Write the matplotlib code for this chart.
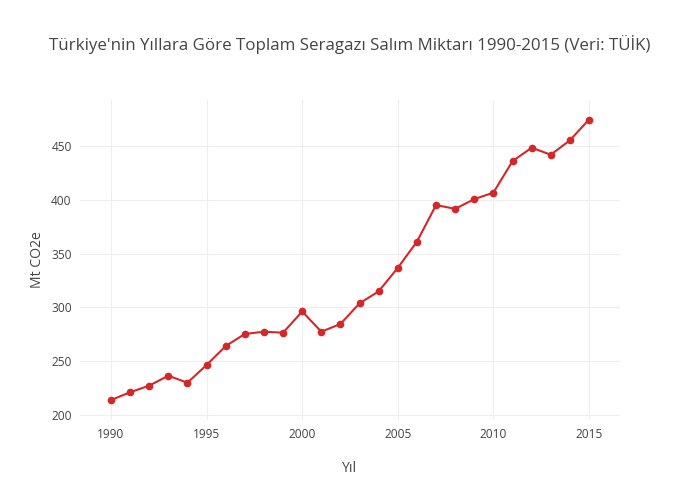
import matplotlib
matplotlib.use("Agg")
import matplotlib.pyplot as plt

years = list(range(1990, 2016))
emissions = [213.9, 221.1, 227.3, 236.5, 230.0, 246.5, 264.1, 275.3, 277.4, 276.5,
             296.2, 277.4, 284.6, 303.8, 314.9, 336.8, 361.1, 395.1, 391.6, 400.6,
             406.7, 435.9, 448.4, 441.9, 455.3, 474.6]
x_ticks = [1990, 1995, 2000, 2005, 2010, 2015]
y_ticks = [200, 250, 300, 350, 400, 450]

plt.rcParams['font.family'] = ['Open Sans', 'DejaVu Sans']
txt = '#444444'

fig = plt.figure(figsize=(7, 5), dpi=100)
ax = fig.add_axes([80/700, 80/500, 540/700, 320/500])
ax.plot(years, emissions, color='#d62728', linewidth=1.5, marker='o',
        markersize=4.5, zorder=3)
ax.set_xlim(1988.38, 2016.62)
ax.set_ylim(195.35, 492.75)
ax.set_xticks(x_ticks)
ax.set_yticks(y_ticks)
ax.grid(True, color='#eeeeee', linewidth=0.8)
ax.set_axisbelow(True)
for s in ax.spines.values():
    s.set_visible(False)
ax.tick_params(length=0, labelsize=8.6, colors=txt, pad=6)
ax.set_xlabel('Yıl', fontsize=10.1, color=txt, labelpad=14)
ax.set_ylabel('Mt CO2e', fontsize=10.1, color=txt, labelpad=4)
fig.text(0.5, 1 - 44/500, "Türkiye'nin Yıllara Göre Toplam Seragazı Salım Miktarı 1990-2015 (Veri: TÜİK)",
         ha='center', va='center', fontsize=12.2, color=txt)
fig.savefig('out.png', dpi=100)
